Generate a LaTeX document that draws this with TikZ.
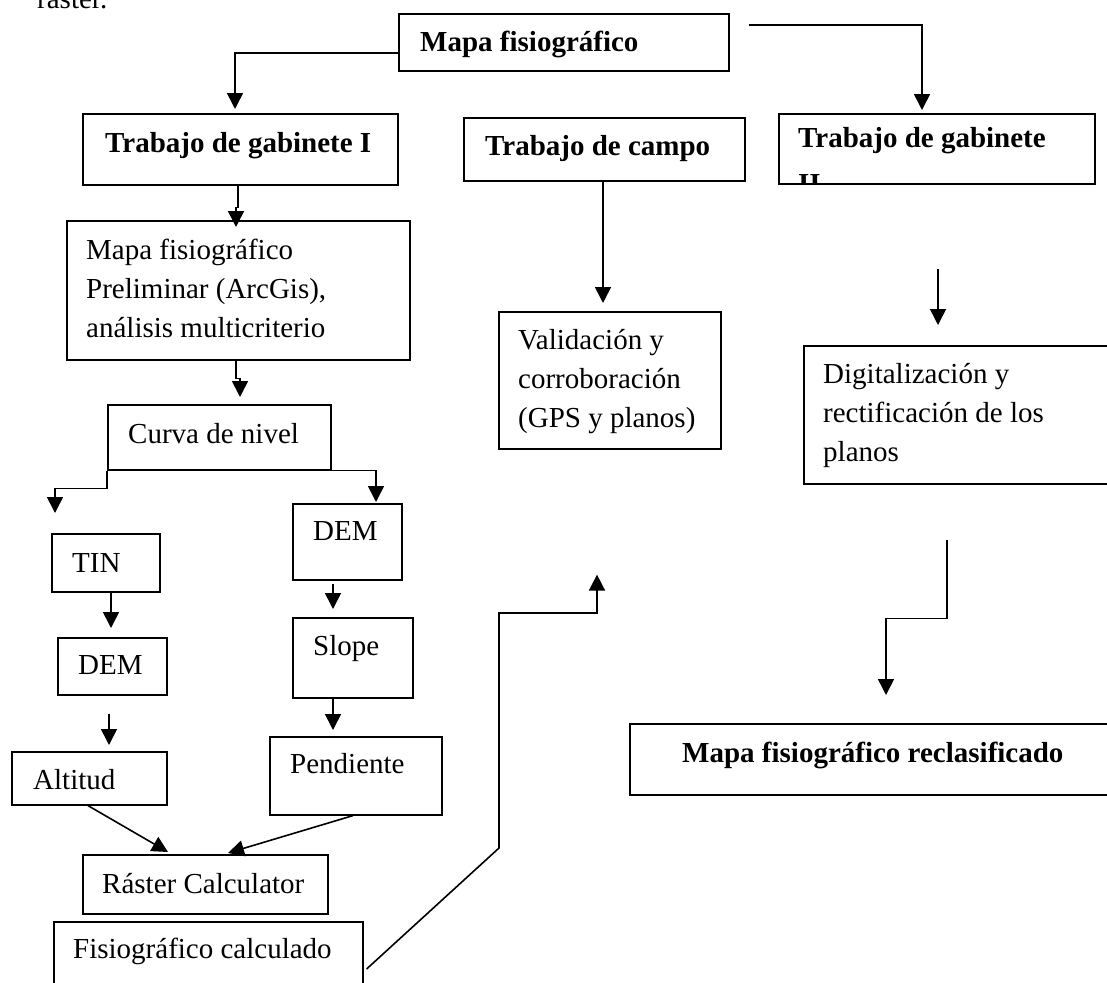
\documentclass[tikz,border=0pt]{standalone}
\usepackage{fontspec}
\setmainfont{Liberation Serif}
\usetikzlibrary{arrows.meta,calc}

\begin{document}
\begin{tikzpicture}[x=1pt,y=-1pt,
  box/.style={draw,line width=1.6pt,inner sep=0pt,anchor=north west},
  % multi-line texts are placed by the baseline of their last line
  txt/.style={anchor=base west,inner sep=0pt,align=left,
              font=\fontsize{29}{39}\selectfont},
  btxt/.style={txt,font=\fontsize{29}{46}\selectfont\bfseries},
  link/.style={line width=1.6pt},
  arr/.style={link,-{Triangle[width=16pt,length=16pt]}}]

\useasboundingbox (0,0) rectangle (1107,982);

% fragment of the running text above the chart
\node[txt] (runtext) at (37,9) {raster.};

% ---- boxes ----
\node[box,minimum width=330pt,minimum height=57pt]  (mapa)   at (398,13)  {};
\node[box,minimum width=315pt,minimum height=71pt]  (gab1)   at (82,113)  {};
\node[box,minimum width=281pt,minimum height=63pt]  (campo)  at (463,117) {};
\node[box,minimum width=343pt,minimum height=139pt] (prelim) at (66,220)  {};
\node[box,minimum width=222pt,minimum height=137pt] (valid)  at (498,311) {};
\node[box,minimum width=320pt,minimum height=138pt] (digit)  at (803,345) {};
\node[box,minimum width=223pt,minimum height=65pt]  (curva)  at (107,404) {};
\node[box,minimum width=108pt,minimum height=58pt]  (tin)    at (51,533)  {};
\node[box,minimum width=109pt,minimum height=57pt]  (dem1)   at (57,637)  {};
\node[box,minimum width=109pt,minimum height=76pt]  (demr)   at (292,503) {};
\node[box,minimum width=120pt,minimum height=80pt]  (slope)  at (292,617) {};
\node[box,minimum width=155pt,minimum height=53pt]  (alt)    at (11,751)  {};
\node[box,minimum width=172pt,minimum height=78pt]  (pend)   at (269,736) {};
\node[box,minimum width=245pt,minimum height=59pt]  (raster) at (82,854)  {};
\node[box,minimum width=309pt,minimum height=80pt]  (calc)   at (53,921)  {};
\node[box,minimum width=500pt,minimum height=71pt]  (recl)   at (629,723) {};

% the second heading box cuts its own second line
\begin{scope}
  \clip (778,113) rectangle (1094,183);
  \node[btxt] (gab2t) at (798,193) {Trabajo de gabinete\\II};
\end{scope}
\node[box,minimum width=316pt,minimum height=70pt]  (gab2)   at (778,113) {};

% ---- texts ----
\node[btxt] (mapat)   at (420,52)  {Mapa fisiográfico};
\node[btxt] (gab1t)   at (105,152) {Trabajo de gabinete I};
\node[btxt] (campot)  at (485,155) {Trabajo de campo};
\node[txt]  (prelimt) at (86,337)  {Mapa fisiográfico\\Preliminar (ArcGis),\\análisis multicriterio};
\node[txt]  (validt)  at (518,427) {Validación y\\corroboración\\(GPS y planos)};
\node[txt]  (digitt)  at (823,461) {Digitalización y\\rectificación de los\\planos};
\node[txt]  (curvat)  at (128,443) {Curva de nivel};
\node[txt]  (tint)    at (72,572)  {TIN};
\node[txt]  (dem1t)   at (78,674)  {DEM};
\node[txt]  (demrt)   at (313,540) {DEM};
\node[txt]  (slopet)  at (313,655) {Slope};
\node[txt]  (altt)    at (33,789)  {Altitud};
\node[txt]  (pendt)   at (290,773) {Pendiente};
\node[txt]  (rastert) at (102,893) {Ráster Calculator};
\node[txt]  (calct)   at (73,958)  {Fisiográfico calculado};
\node[btxt] (reclt)   at (682,762) {Mapa fisiográfico reclasificado};

% ---- connectors ----
\draw[arr] (mapa.west |- 0,53) -| ($(gab1.north west)+(153,-4)$);
\draw[arr] ($(mapa.north east)+(19,12)$) -| ($(gab2.north west)+(144,-3)$);
\draw[arr] ($(gab1.south west)+(156,0)$) -- ++(0,22) -- ++(-2,0)
           -- ($(prelim.north west)+(170,7)$);
\draw[arr] ($(prelim.south west)+(170,0)$) -- ++(0,18) -- ++(4,0)
           -- ($(curva.north west)+(133,-7)$);
\draw[arr] (curva.south west) -- ++(0,18) -| ($(tin.north west)+(4,-20)$);
\draw[arr] (curva.south east) -| ($(demr.north west)+(84,-1)$);
\draw[arr] ($(tin.south west)+(60,0)$) -- ($(dem1.north west)+(54,-9)$);
\draw[arr] ($(dem1.south west)+(52,18)$) -- ($(alt.north west)+(98,-6)$);
\draw[arr] ($(demr.south west)+(41,3)$) -- ($(slope.north west)+(41,-8)$);
\draw[arr] ($(slope.south west)+(41,0)$) -- ($(pend.north west)+(64,-6)$);
\draw[arr] ($(alt.south west)+(77,0)$) -- ($(raster.north west)+(86,-2)$);
\draw[arr] ($(pend.south west)+(84,0)$) -- ($(raster.north west)+(146,-1)$);
\draw[arr] ($(calc.north east)+(3,48)$) -- (499,848) -- (499,613) -| ($(valid.south west)+(99,125)$);
\draw[arr] ($(campo.south west)+(140,0)$) -- ($(valid.north west)+(105,-8)$);
\draw[arr] ($(gab2.south west)+(160,84)$) -- ($(digit.north west)+(135,-20)$);
\draw[arr] ($(digit.south west)+(144,55)$) -- ++(0,79) -| ($(recl.north west)+(257,-28)$);

\end{tikzpicture}
\end{document}
